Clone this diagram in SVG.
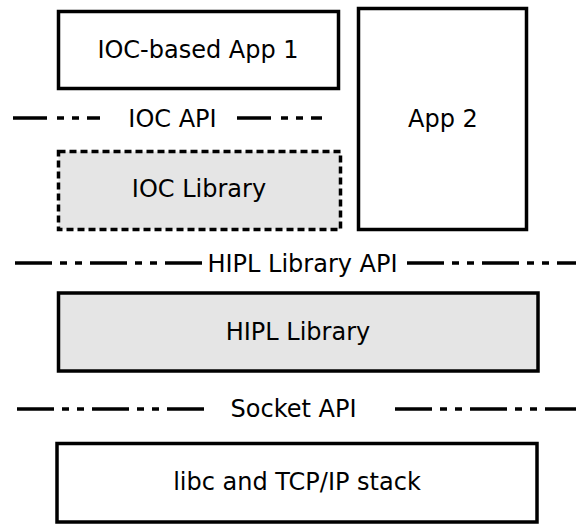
<svg xmlns="http://www.w3.org/2000/svg" width="576" height="525" viewBox="0 0 576 525">
  <style>
    .box { fill: #ffffff; stroke: #000000; stroke-width: 3.5; }
    .lib { fill: #e5e5e5; stroke: #000000; stroke-width: 3.5; }
    .dashed { stroke-dasharray: 7 4; }
    .api { fill: none; stroke: #000000; stroke-width: 3.5; stroke-dasharray: 37 8 7 8 7 8; }
    text { font-family: "DejaVu Sans", "Liberation Sans", sans-serif; font-size: 24px; fill: #000000; text-anchor: middle; }
  </style>
  <rect width="576" height="525" fill="#ffffff"/>

  <!-- API boundary lines -->
  <g id="connectors">
    <line class="api" x1="13" y1="118" x2="100" y2="118" style="stroke-dasharray: 34 10 7 8 7 8"/>
    <line class="api" x1="237" y1="118" x2="322" y2="118" style="stroke-dasharray: 34 10 7 8 7 8"/>
    <line class="api" x1="15" y1="263" x2="206" y2="263"/>
    <line class="api" x1="407" y1="263" x2="576" y2="263"/>
    <line class="api" x1="17" y1="409" x2="205" y2="409"/>
    <line class="api" x1="395" y1="409" x2="576" y2="409"/>
  </g>

  <g id="app1">
    <rect class="box" x="58.5" y="11.5" width="280" height="77"/>
    <text x="198" y="58">IOC-based App 1</text>
  </g>

  <g id="app2">
    <rect class="box" x="358.5" y="8.5" width="168" height="221"/>
    <text x="443" y="127">App 2</text>
  </g>

  <g id="ioc-api">
    <text x="172.5" y="127">IOC API</text>
  </g>

  <g id="ioc-library">
    <rect class="lib dashed" x="58.5" y="151.5" width="282" height="78"/>
    <text x="199" y="197">IOC Library</text>
  </g>

  <g id="hipl-api">
    <text x="302.5" y="272">HIPL Library API</text>
  </g>

  <g id="hipl-library">
    <rect class="lib" x="58.5" y="293" width="479.5" height="78"/>
    <text x="298" y="340">HIPL Library</text>
  </g>

  <g id="socket-api">
    <text x="293.5" y="417">Socket API</text>
  </g>

  <g id="libc">
    <rect class="box" x="57" y="443.5" width="480" height="78.5"/>
    <text x="297" y="490">libc and TCP/IP stack</text>
  </g>
</svg>
